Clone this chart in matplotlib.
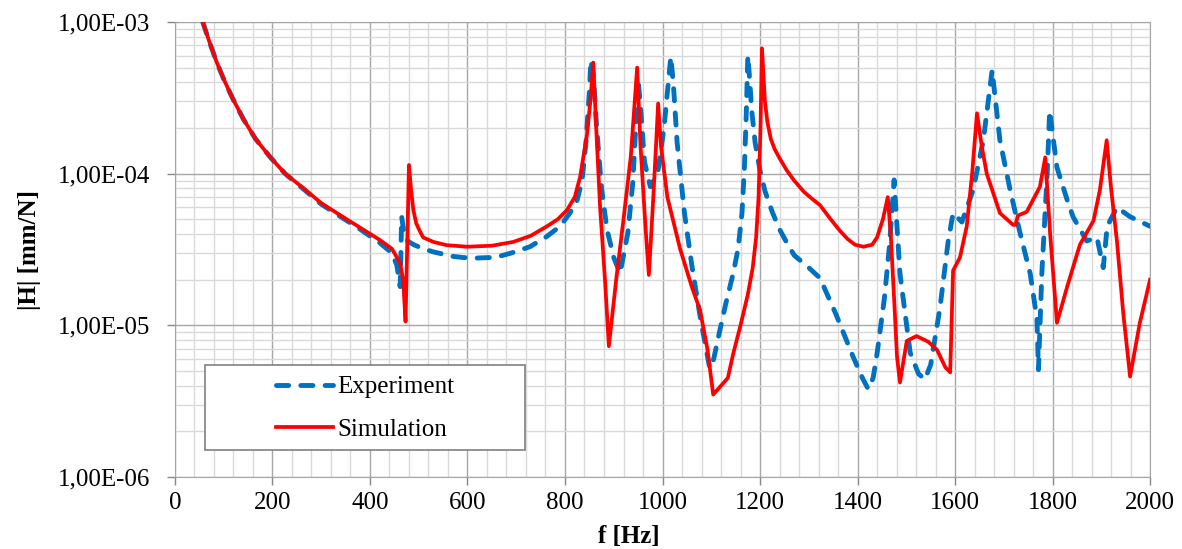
import matplotlib
matplotlib.use("Agg")
import matplotlib.pyplot as plt
from matplotlib.patches import Rectangle
from matplotlib.ticker import FixedLocator, FuncFormatter, MultipleLocator, LogLocator, NullFormatter

# measured transfer function |H| (mm/N) against frequency (Hz)
exp_f = [57, 70, 85, 100, 117, 140, 165, 195, 226, 260, 300, 340, 380, 420, 445,
         455, 462, 465, 471, 480, 490, 509, 530, 550, 570, 591, 620, 646, 670,
         690, 710, 728, 760, 790, 810,
         825, 835, 843, 850, 853, 858, 865, 875, 886, 900, 913, 929, 939, 945,
         950, 956, 963, 975, 990, 1003, 1012, 1017, 1022, 1030, 1045, 1060,
         1078, 1097, 1105, 1115, 1130, 1145, 1155, 1163, 1168, 1172, 1175, 1178,
         1183, 1190, 1200, 1210, 1225, 1240, 1255,
         1270, 1300, 1323, 1355, 1391, 1410, 1422, 1432, 1440, 1455, 1466, 1475,
         1480, 1487, 1508, 1525, 1538, 1550, 1569, 1586, 1596, 1614, 1637, 1658,
         1676, 1692, 1713, 1733, 1754, 1768, 1771, 1778, 1789, 1794, 1809, 1830,
         1842, 1870, 1891, 1904, 1912, 1932, 1959, 2000]
exp_h = [1.0e-3, 7.5e-4, 5.5e-4, 4.2e-4, 3.2e-4, 2.3e-4, 1.7e-4, 1.29e-4, 1.0e-4,
         8.1e-5, 6.3e-5, 5.2e-5, 4.3e-5, 3.5e-5, 3.0e-5,
         2.5e-5, 1.8e-5, 5.2e-5, 3.8e-5, 3.55e-5, 3.4e-5, 3.2e-5, 3.05e-5,
         2.95e-5, 2.85e-5, 2.8e-5, 2.78e-5, 2.8e-5, 2.88e-5,
         3.0e-5, 3.15e-5, 3.3e-5, 3.8e-5, 4.5e-5, 5.5e-5,
         6.7e-5, 9.0e-5, 1.6e-4, 3.5e-4, 5.6e-4, 4.5e-4, 2.0e-4, 8.0e-5, 4.3e-5,
         2.8e-5, 2.2e-5, 4.1e-5, 8.7e-5, 2.0e-4,
         4.2e-4, 2.5e-4, 1.2e-4, 8.2e-5, 1.0e-4, 2.0e-4, 4.0e-4, 5.9e-4, 4.0e-4,
         1.6e-4, 5.5e-5, 2.5e-5,
         1.1e-5, 5.2e-6, 6.0e-6, 8.5e-6, 1.4e-5, 2.2e-5, 3.2e-5, 5.5e-5, 1.1e-4,
         2.6e-4, 6.0e-4, 4.5e-4,
         2.6e-4, 1.6e-4, 1.05e-4, 7.7e-5, 5.6e-5, 4.3e-5, 3.5e-5,
         2.9e-5, 2.4e-5, 2.05e-5, 1.2e-5, 6.2e-6, 4.5e-6, 3.8e-6, 4.5e-6, 6.5e-6,
         1.5e-5, 3.5e-5, 9.1e-5,
         5.0e-5, 2.2e-5, 6.6e-6, 4.8e-6, 4.4e-6, 5.5e-6, 1.3e-5, 3.6e-5, 5.5e-5,
         4.8e-5, 7.8e-5, 1.66e-4,
         4.8e-4, 1.66e-4, 7.8e-5, 4.1e-5, 2.2e-5, 1.1e-5, 5.1e-6, 2.2e-5, 1.0e-4,
         2.6e-4, 1.1e-4, 6.7e-5,
         5.2e-5, 3.6e-5, 3.8e-5, 2.4e-5, 4.5e-5, 6.0e-5, 5.2e-5, 4.5e-5]

# simulated transfer function
sim_f = [57, 70, 85, 100, 117, 140, 165, 195, 226, 260, 300, 340, 380, 420, 445,
         462, 468, 473, 477, 480, 484, 489, 495, 502, 509, 530, 557, 599, 650,
         694, 730, 763, 785,
         804, 820, 831, 845, 852, 858, 864, 872, 882, 890, 905, 920, 935, 943, 948,
         955, 965, 972, 980, 987, 991, 997, 1010, 1036, 1060, 1077, 1092, 1104,
         1120, 1134, 1145, 1160, 1175, 1185, 1192, 1197, 1201, 1204, 1207, 1210,
         1215, 1222, 1230, 1241, 1255, 1270,
         1290, 1305, 1323, 1345, 1364, 1380, 1395, 1412, 1430, 1440, 1452, 1462,
         1468, 1475, 1481,
         1487, 1501, 1521, 1545, 1563, 1580, 1590, 1596, 1610, 1624, 1635, 1645,
         1655, 1665, 1692, 1719, 1724, 1729, 1747, 1774, 1785, 1795, 1809, 1830,
         1856, 1884, 1897, 1911, 1920, 1932, 1945, 1959, 1979, 2000]
sim_h = [1.0e-3, 7.5e-4, 5.5e-4, 4.2e-4, 3.2e-4, 2.3e-4, 1.7e-4, 1.29e-4, 1.0e-4,
         8.2e-5, 6.4e-5, 5.3e-5, 4.4e-5, 3.66e-5, 3.2e-5,
         2.57e-5, 2.0e-5, 1.06e-5, 4.0e-5, 1.14e-4, 8.0e-5, 5.75e-5, 4.7e-5,
         4.2e-5, 3.8e-5, 3.55e-5, 3.38e-5, 3.3e-5, 3.35e-5,
         3.55e-5, 3.9e-5, 4.5e-5, 5.0e-5,
         5.75e-5, 7.0e-5, 9.5e-5, 1.8e-4, 3.0e-4, 5.4e-4, 2.0e-4, 6.0e-5, 2.0e-5,
         7.3e-6, 2.0e-5, 5.0e-5, 1.3e-4, 3.0e-4, 5.0e-4,
         1.5e-4, 4.5e-5, 2.15e-5, 6.0e-5, 1.6e-4, 2.9e-4, 1.5e-4, 7.0e-5, 3.2e-5,
         1.8e-5, 1.26e-5, 7.0e-6, 3.5e-6,
         4.0e-6, 4.5e-6, 6.5e-6, 1.0e-5, 1.6e-5, 2.4e-5, 3.8e-5, 7.0e-5, 2.0e-4,
         6.7e-4, 4.5e-4, 3.0e-4,
         2.2e-4, 1.7e-4, 1.45e-4, 1.25e-4, 1.05e-4, 9.0e-5,
         7.6e-5, 6.9e-5, 6.2e-5, 5.0e-5, 4.2e-5, 3.7e-5, 3.4e-5, 3.3e-5, 3.4e-5,
         3.8e-5, 5.0e-5, 7.0e-5,
         4.0e-5, 1.5e-5, 6.2e-6,
         4.2e-6, 7.9e-6, 8.5e-6, 7.8e-6, 6.9e-6, 5.3e-6, 4.9e-6, 2.3e-5, 2.8e-5,
         4.5e-5, 1.0e-4, 2.5e-4,
         1.5e-4, 1.0e-4, 5.5e-5, 4.6e-5, 4.6e-5, 5.3e-5, 5.6e-5, 8.2e-5, 1.28e-4,
         4.0e-5, 1.04e-5, 1.8e-5,
         3.4e-5, 4.9e-5, 7.8e-5, 1.66e-4, 8.0e-5, 3.6e-5, 1.2e-5, 4.6e-6, 1.04e-5,
         2.0e-5]

x_ticks = [0, 200, 400, 600, 800, 1000, 1200, 1400, 1600, 1800, 2000]
y_ticks = [1e-6, 1e-5, 1e-4, 1e-3]

plt.rcParams["font.family"] = ["Liberation Serif", "DejaVu Serif"]
plt.rcParams["font.size"] = 18

fig = plt.figure(figsize=(11.82, 5.49), dpi=100)
ax = fig.add_axes([0.148, 0.131, 0.825, 0.829])

ax.plot(exp_f, exp_h, color="#0070c0", lw=3.5, dashes=(2.5, 2.5),
        dash_capstyle="round", solid_joinstyle="round", label="Experiment", zorder=3)
ax.plot(sim_f, sim_h, color="#ff0000", lw=2.7, solid_joinstyle="round",
        label="Simulation", zorder=4)

ax.set_yscale("log")
ax.set_xlim(0, 2000)
ax.set_ylim(1e-6, 1e-3)

ax.xaxis.set_major_locator(FixedLocator(x_ticks))
ax.xaxis.set_minor_locator(MultipleLocator(40))
ax.yaxis.set_major_locator(FixedLocator(y_ticks))
ax.yaxis.set_minor_locator(LogLocator(base=10, subs=range(2, 10)))
ax.yaxis.set_minor_formatter(NullFormatter())
ax.yaxis.set_major_formatter(FuncFormatter(
    lambda v, p: ("%.2E" % v).replace(".", ",")))

ax.grid(which="major", color="#a6a6a6", lw=1.0)
ax.grid(which="minor", color="#d9d9d9", lw=1.0)
ax.set_axisbelow(True)
for s in ax.spines.values():
    s.set_color("#a6a6a6")
ax.tick_params(which="major", length=6, color="#868686", width=1)
ax.tick_params(axis="x", pad=5)
ax.tick_params(axis="y", pad=12)
ax.tick_params(which="minor", length=0)

ax.set_xlabel("f [Hz]", fontweight="bold")
ax.xaxis.set_label_coords(0.465, -0.105)
ax.set_ylabel("|H| [mm/N]", fontweight="bold", labelpad=12)

# legend box drawn separately so the entries sit centred inside a wide frame
box = Rectangle((0.031, 0.059), 0.328, 0.187, transform=ax.transAxes,
                facecolor="white", edgecolor="#808080", lw=1.2, zorder=5)
ax.add_patch(box)
leg = ax.legend(loc="center", bbox_to_anchor=(0.195, 0.151), frameon=False,
                handlelength=2.3, labelspacing=0.8, handletextpad=0.15,
                borderpad=0, borderaxespad=0)
leg.set_zorder(6)

fig.savefig("out.png", dpi=100)
